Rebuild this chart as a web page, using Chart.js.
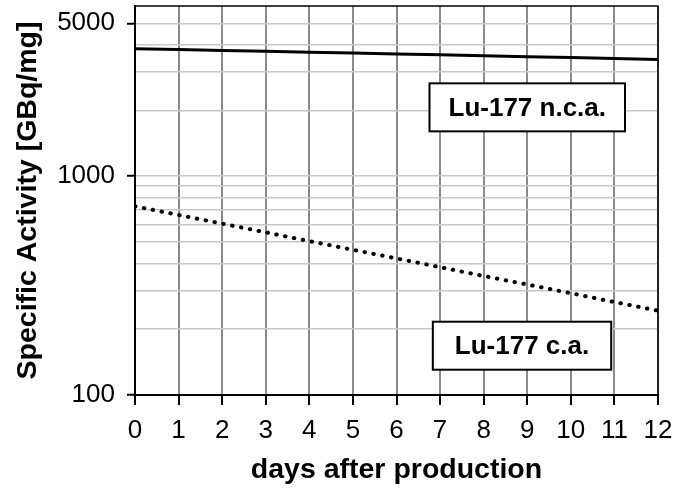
<!DOCTYPE html>
<html>
<head>
<meta charset="utf-8">
<script src="https://cdn.jsdelivr.net/npm/chart.js@4.4.1/dist/chart.umd.min.js"></script>
<style>
  html, body { margin: 0; padding: 0; background: #fff; }
  canvas { display: block; }
</style>
</head>
<body>
<canvas id="chart" width="677" height="488"></canvas>
<script>
// days after production
const days = [0, 1, 2, 3, 4, 5, 6, 7, 8, 9, 10, 11, 12];
// specific activity, GBq/mg
const ncaValues = [3830, 3795, 3760, 3725, 3690, 3655, 3620, 3590, 3555, 3520, 3490, 3455, 3420];
const caValues = [729, 665, 607, 554, 505, 461, 421, 384, 350, 320, 292, 266, 243];

// y grid lines and the ones that get a label
const yGridValues = [100, 200, 300, 400, 500, 600, 700, 800, 900, 1000, 2000, 3000, 4000, 5000];
const yTickLabels = [100, 1000, 5000];

// boxed series labels: [day, value, text]
const labelDays = [9.0, 8.88];
const labelValues = [2065, 168];
const labelTexts = ['Lu-177 n.c.a.', 'Lu-177 c.a.'];
const labelPadX = [19, 22];

const FONT = "'Liberation Sans', Arial, sans-serif";

const toPoints = vals => days.map((d, i) => ({ x: d, y: vals[i] }));

// draws the top/right frame of the plot area
const frame = {
  id: 'frame',
  afterDraw(chart) {
    const { ctx, chartArea: a } = chart;
    ctx.save();
    ctx.strokeStyle = '#000';
    ctx.lineWidth = 1.5;
    ctx.beginPath();
    ctx.moveTo(a.left, a.top);
    ctx.lineTo(a.right, a.top);
    ctx.lineTo(a.right, a.bottom);
    ctx.stroke();
    ctx.restore();
  }
};

// boxed text labels placed in data coordinates
const boxLabels = {
  id: 'boxLabels',
  afterDatasetsDraw(chart) {
    const { ctx, scales } = chart;
    ctx.save();
    ctx.font = 'bold 26px ' + FONT;
    ctx.textAlign = 'center';
    ctx.textBaseline = 'middle';
    labelTexts.forEach((txt, i) => {
      const cx = scales.x.getPixelForValue(labelDays[i]);
      const cy = scales.y.getPixelForValue(labelValues[i]);
      const w = ctx.measureText(txt).width + labelPadX[i] * 2;
      const h = 48;
      ctx.fillStyle = '#fff';
      ctx.fillRect(cx - w / 2, cy - h / 2, w, h);
      ctx.strokeStyle = '#000';
      ctx.lineWidth = 2;
      ctx.strokeRect(cx - w / 2, cy - h / 2, w, h);
      ctx.fillStyle = '#000';
      ctx.fillText(txt, cx, cy + 1);
    });
    ctx.restore();
  }
};

new Chart(document.getElementById('chart'), {
  type: 'line',
  data: {
    datasets: [
      {
        label: 'Lu-177 n.c.a.',
        data: toPoints(ncaValues),
        borderColor: '#000',
        borderWidth: 3,
        pointRadius: 0,
        tension: 0
      },
      {
        label: 'Lu-177 c.a.',
        data: toPoints(caValues),
        borderColor: '#000',
        borderWidth: 4,
        borderDash: [0.5, 8.5],
        borderCapStyle: 'round',
        pointRadius: 0,
        tension: 0
      }
    ]
  },
  options: {
    responsive: false,
    animation: false,
    layout: { padding: { top: 6, right: 19, left: 0, bottom: 0 } },
    plugins: {
      legend: { display: false },
      tooltip: { enabled: false }
    },
    scales: {
      x: {
        type: 'linear',
        min: 0,
        max: 12,
        ticks: {
          stepSize: 1,
          color: '#000',
          padding: 10,
          maxRotation: 0,
          font: { family: FONT, size: 26 }
        },
        grid: {
          color: '#8a8a8a',
          lineWidth: 2,
          tickColor: '#000',
          tickLength: 10,
          tickWidth: 2
        },
        border: { color: '#000', width: 2 },
        title: {
          display: true,
          text: 'days after production',
          color: '#000',
          padding: { top: 0, bottom: 1 },
          font: { family: FONT, size: 28.5, weight: 'bold' }
        },
        afterFit(scale) {
          scale.height = 93;
          scale.paddingLeft = 0;
          scale.paddingRight = 0;
        }
      },
      y: {
        type: 'logarithmic',
        min: 100,
        max: 6000,
        afterBuildTicks(scale) {
          scale.ticks = yGridValues.map(v => ({ value: v }));
        },
        ticks: {
          color: '#000',
          padding: 12,
          autoSkip: false,
          font: { family: FONT, size: 26 },
          callback: value => (yTickLabels.includes(value) ? String(value) : '')
        },
        grid: {
          color: '#c8c8c8',
          lineWidth: 1.5,
          tickLength: 8,
          tickWidth: 2,
          tickColor: ctx => (ctx.tick && yTickLabels.includes(ctx.tick.value) ? '#000' : 'rgba(0,0,0,0)')
        },
        border: { color: '#000', width: 2 },
        title: {
          display: true,
          text: 'Specific Activity [GBq/mg]',
          color: '#000',
          padding: { top: 11, bottom: 0 },
          font: { family: FONT, size: 28.5, weight: 'bold' }
        },
        afterFit(scale) {
          scale.width = 135;
          scale.paddingTop = 0;
          scale.paddingBottom = 0;
        }
      }
    }
  },
  plugins: [frame, boxLabels]
});
</script>
</body>
</html>
